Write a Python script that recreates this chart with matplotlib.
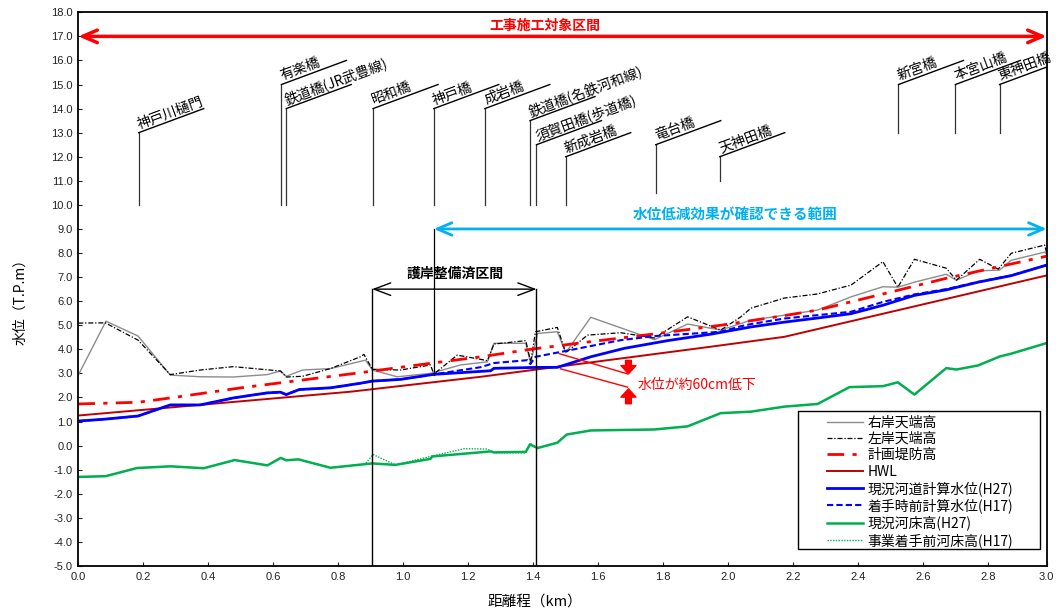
import numpy as np
import matplotlib
matplotlib.use('Agg')
import matplotlib.pyplot as plt
from matplotlib.patches import Rectangle
from matplotlib.ticker import FormatStrFormatter

plt.rcParams['font.family'] = ['Noto Sans CJK JP', 'DejaVu Sans']

# ---------------- data ----------------
rb_x = [0.0, 0.085, 0.184, 0.283, 0.375, 0.477, 0.581, 0.622, 0.640, 0.690, 0.776, 0.868, 0.884, 0.905,
        0.981, 1.084, 1.176, 1.259, 1.279, 1.377, 1.392, 1.413, 1.474, 1.500, 1.577, 1.773, 1.875, 1.977,
        2.070, 2.173, 2.275, 2.378, 2.476, 2.522, 2.573, 2.671, 2.702, 2.769, 2.835, 2.871, 2.974, 2.98]
rb_y = [2.93, 5.17, 4.55, 2.93, 2.86, 2.85, 2.95, 3.10, 2.88, 3.14, 3.20, 3.50, 3.55, 3.14,
        2.86, 3.00, 3.35, 3.48, 4.25, 4.25, 3.42, 4.66, 4.73, 3.86, 5.33, 4.40, 5.05, 4.80,
        5.21, 5.42, 5.63, 6.18, 6.60, 6.58, 6.79, 7.12, 6.87, 7.26, 7.29, 7.70, 8.04, 7.95]

lb_x = [0.0, 0.083, 0.184, 0.283, 0.375, 0.477, 0.581, 0.622, 0.640, 0.690, 0.776, 0.868, 0.879, 0.905,
        0.991, 1.084, 1.094, 1.166, 1.259, 1.279, 1.377, 1.392, 1.407, 1.474, 1.500, 1.567, 1.669, 1.773,
        1.875, 1.977, 2.039, 2.070, 2.173, 2.275, 2.378, 2.476, 2.522, 2.573, 2.671, 2.702, 2.774, 2.831,
        2.871, 2.974, 2.98]
lb_y = [5.09, 5.10, 4.38, 2.95, 3.14, 3.28, 3.15, 3.10, 2.85, 2.88, 3.20, 3.69, 3.79, 3.17,
        3.14, 3.35, 2.97, 3.76, 3.53, 4.22, 4.36, 3.49, 4.73, 4.91, 3.86, 4.59, 4.69, 4.47,
        5.35, 4.80, 5.35, 5.71, 6.13, 6.30, 6.67, 7.64, 6.58, 7.74, 7.37, 6.87, 7.74, 7.33,
        7.99, 8.33, 8.00]

pd_x = [0.0, 0.184, 0.283, 0.500, 0.868, 1.084, 1.239, 1.392, 1.547, 1.773, 1.977, 2.173, 2.275, 2.476, 2.671, 2.98]
pd_y = [1.73, 1.80, 1.98, 2.40, 3.03, 3.42, 3.69, 4.00, 4.27, 4.64, 5.00, 5.40, 5.63, 6.30, 6.95, 7.87]

hwl_x = [0.0, 0.838, 1.239, 1.947, 2.173, 2.98]
hwl_y = [1.25, 2.24, 2.86, 4.11, 4.52, 7.07]

h27_x = [0.0, 0.083, 0.184, 0.283, 0.375, 0.477, 0.581, 0.622, 0.640, 0.680, 0.776, 0.868, 0.905, 0.991,
         1.094, 1.269, 1.279, 1.413, 1.474, 1.577, 1.680, 1.813, 1.947, 2.070, 2.173, 2.275, 2.378, 2.476,
         2.573, 2.671, 2.769, 2.871, 2.98]
h27_y = [1.02, 1.10, 1.23, 1.69, 1.69, 1.98, 2.19, 2.22, 2.12, 2.33, 2.40, 2.59, 2.68, 2.75,
         2.96, 3.11, 3.21, 3.25, 3.25, 3.69, 4.04, 4.36, 4.63, 4.93, 5.13, 5.30, 5.48, 5.83,
         6.24, 6.47, 6.79, 7.06, 7.50]

h17_x = [0.0, 0.083, 0.184, 0.283, 0.375, 0.477, 0.581, 0.622, 0.640, 0.680, 0.776, 0.868, 0.905, 0.991,
         1.094, 1.239, 1.279, 1.382, 1.391, 1.407, 1.484, 1.669, 1.773, 1.977, 2.039, 2.070, 2.173, 2.275,
         2.378, 2.476, 2.573, 2.671, 2.769, 2.871, 2.98]
h17_y = [1.02, 1.10, 1.23, 1.69, 1.69, 1.98, 2.19, 2.22, 2.12, 2.33, 2.40, 2.59, 2.68, 2.75,
         2.96, 3.26, 3.43, 3.55, 3.39, 3.69, 3.89, 4.38, 4.55, 4.73, 4.96, 5.05, 5.28, 5.42,
         5.56, 5.97, 6.28, 6.50, 6.80, 7.07, 7.50]

bed27_x = [0.0, 0.084, 0.181, 0.284, 0.386, 0.481, 0.582, 0.623, 0.640, 0.677, 0.776, 0.904, 0.976, 1.084,
           1.089, 1.269, 1.279, 1.377, 1.390, 1.413, 1.474, 1.503, 1.577, 1.772, 1.875, 1.977, 2.070, 2.173,
           2.275, 2.373, 2.476, 2.522, 2.573, 2.671, 2.702, 2.769, 2.835, 2.871, 2.98]
bed27_y = [-1.30, -1.27, -0.93, -0.86, -0.94, -0.60, -0.82, -0.51, -0.61, -0.57, -0.92, -0.74, -0.80, -0.55,
           -0.45, -0.24, -0.28, -0.26, 0.05, -0.10, 0.12, 0.46, 0.63, 0.67, 0.80, 1.35, 1.41, 1.62,
           1.73, 2.43, 2.47, 2.63, 2.12, 3.22, 3.16, 3.33, 3.70, 3.82, 4.26]

bed17_x = [0.0, 0.084, 0.181, 0.284, 0.386, 0.481, 0.582, 0.623, 0.640, 0.677, 0.776, 0.883, 0.907, 0.976,
           1.084, 1.187, 1.259, 1.279, 1.377, 1.390, 1.413, 1.474, 1.503, 1.577, 1.772, 1.875, 1.977, 2.070,
           2.173, 2.275, 2.373, 2.476, 2.522, 2.573, 2.671, 2.702, 2.769, 2.835, 2.871, 2.98]
bed17_y = [-1.30, -1.27, -0.93, -0.86, -0.94, -0.60, -0.82, -0.51, -0.61, -0.57, -0.92, -0.76, -0.37, -0.80,
           -0.45, -0.13, -0.14, -0.30, -0.30, 0.10, -0.10, 0.12, 0.46, 0.63, 0.67, 0.80, 1.35, 1.41,
           1.62, 1.73, 2.43, 2.47, 2.63, 2.12, 3.22, 3.16, 3.33, 3.70, 3.82, 4.26]

legend_labels = ['右岸天端高', '左岸天端高', '計画堤防高', 'HWL', '現況河道計算水位(H27)',
                 '着手時前計算水位(H17)', '現況河床高(H27)', '事業着手前河床高(H17)']

bridge_names = ['神戸川樋門', '有楽橋', '鉄道橋(JR武豊線)', '昭和橋', '神戸橋', '成岩橋', '鉄道橋(名鉄河和線)',
                '須賀田橋(歩道橋)', '新成岩橋', '竜台橋', '天神田橋', '新宮橋', '本宮山橋', '東神田橋']
bridge_x = [0.186, 0.625, 0.640, 0.907, 1.094, 1.251, 1.390, 1.410, 1.500, 1.777, 1.974, 2.524, 2.699, 2.835]
bridge_bottom = [10, 10, 10, 10, 10, 10, 10, 10, 10, 10.5, 11, 13, 13, 13]
bridge_top = [13, 15, 14, 14, 14, 14, 13.5, 12.5, 12, 12.5, 12, 15, 15, 15]

x_ticks = [0.0, 0.2, 0.4, 0.6, 0.8, 1.0, 1.2, 1.4, 1.6, 1.8, 2.0, 2.2, 2.4, 2.6, 2.8, 2.98]
x_tick_labels = ['0.0', '0.2', '0.4', '0.6', '0.8', '1.0', '1.2', '1.4', '1.6', '1.8', '2.0', '2.2',
                 '2.4', '2.6', '2.8', '3.0']

# construction range etc.
work_range = [0.0, 2.98]
effect_range = [1.094, 2.98]
revet_range = [0.904, 1.410]
XMAX = 2.98

# ---------------- figure ----------------
fig = plt.figure(figsize=(10.61, 6.15), dpi=100)
ax = fig.add_axes([0.0738, 0.0797, 0.9127, 0.9003])
ax.set_xlim(0, XMAX)
ax.set_ylim(-5, 18)

l1, = ax.plot(rb_x, rb_y, color='#8c8c8c', lw=1.0)
l2, = ax.plot(lb_x, lb_y, color='black', lw=0.9, dashes=(4, 1.5, 1, 1.5))
l3, = ax.plot(pd_x, pd_y, color='#ff0000', lw=2.0, dashes=(6, 3, 1.5, 3))
l4, = ax.plot(hwl_x, hwl_y, color='#c00000', lw=1.4)
l5, = ax.plot(h27_x, h27_y, color='#0000ff', lw=2.0)
l6, = ax.plot(h17_x, h17_y, color='#0000ff', lw=1.5, dashes=(3, 1.5))
l8, = ax.plot(bed17_x, bed17_y, color='#00b050', lw=1.0, dashes=(1, 1))
l7, = ax.plot(bed27_x, bed27_y, color='#00b050', lw=1.8)

# bridges
SL_DX, SL_DY = 0.2, 1.0
for name, bx, b0, b1 in zip(bridge_names, bridge_x, bridge_bottom, bridge_top):
    ax.plot([bx, bx], [b0, b1], color='#333333', lw=0.9)
    ax.plot([bx, bx + SL_DX], [b1, b1 + SL_DY], color='black', lw=1.0)
    ax.text(bx + 0.006, b1 + 0.06, name, rotation=20.3, rotation_mode='anchor',
            ha='left', va='bottom', fontsize=10)

# work range arrow
ax.annotate('', xy=(work_range[0], 17), xytext=(work_range[1], 17),
            arrowprops=dict(arrowstyle='<->,head_length=0.7,head_width=0.3', color='red', lw=2.5,
                            shrinkA=0, shrinkB=0, mutation_scale=15))
ax.text(1.436, 17.45, '工事施工対象区間', color='red', fontsize=10, fontweight='bold',
        ha='center', va='center')

# effect range arrow
ax.annotate('', xy=(effect_range[0], 9.0), xytext=(effect_range[1], 9.0),
            arrowprops=dict(arrowstyle='<->,head_length=0.7,head_width=0.3', color='#00b0f0', lw=2.0,
                            shrinkA=0, shrinkB=0, mutation_scale=15))
ax.text(2.02, 9.57, '水位低減効果が確認できる範囲', color='#00b0f0', fontsize=10.5, fontweight='bold',
        ha='center', va='center')
ax.plot([effect_range[0], effect_range[0]], [9.0, 2.95], color='black', lw=0.9)

# revetment range
ax.annotate('', xy=(revet_range[0], 6.5), xytext=(revet_range[1], 6.5),
            arrowprops=dict(arrowstyle='<->,head_length=0.8,head_width=0.3', color='black', lw=1.0,
                            shrinkA=0, shrinkB=0, mutation_scale=15))
ax.text(1.16, 7.14, '護岸整備済区間', color='black', fontsize=10, fontweight='bold',
        ha='center', va='center')
for rx in revet_range:
    ax.plot([rx, rx], [-5, 6.5], color='black', lw=1.0)

# water level reduction annotation
ax.plot([1.48, 1.69], [3.82, 2.98], color='red', lw=1.0)
ax.plot([1.484, 1.69], [3.19, 2.43], color='red', lw=1.0)
ax.annotate('', xy=(1.693, 2.98), xytext=(1.693, 3.54),
            arrowprops=dict(arrowstyle='simple,head_length=0.5,head_width=0.9,tail_width=0.35',
                            color='red', shrinkA=0, shrinkB=0, mutation_scale=12))
ax.annotate('', xy=(1.693, 2.36), xytext=(1.693, 1.74),
            arrowprops=dict(arrowstyle='simple,head_length=0.5,head_width=0.9,tail_width=0.35',
                            color='red', shrinkA=0, shrinkB=0, mutation_scale=12))
ax.text(1.721, 2.5, '水位が約60cm低下', color='red', fontsize=10, ha='left', va='center')

# axes styling
ax.set_yticks(np.arange(-5, 18.5, 1.0))
ax.yaxis.set_major_formatter(FormatStrFormatter('%.1f'))
ax.set_xticks(x_ticks)
ax.set_xticklabels(x_tick_labels)
ax.tick_params(direction='in', length=3, labelsize=8, colors='#222222', pad=4)
for lab in ax.get_xticklabels() + ax.get_yticklabels():
    lab.set_family(['Liberation Sans', 'DejaVu Sans'])
for sp in ax.spines.values():
    sp.set_linewidth(1.3)

ax.set_xlabel('距離程（km）', fontsize=10.5)
ax.xaxis.set_label_coords(0.472, -0.052)
ax.set_ylabel('水位（T.P.m）', fontsize=10)
ax.yaxis.set_label_coords(-0.053, 0.483)

# legend
ax.add_patch(Rectangle((0.7435, 0.0307), 0.2495, 0.2498, transform=ax.transAxes,
                       facecolor='white', edgecolor='black', lw=1.0, zorder=4.5))
leg = ax.legend([l1, l2, l3, l4, l5, l6, l7, l8], legend_labels, loc='upper left',
                bbox_to_anchor=(0.7728, 0.272), frameon=False, fontsize=10, borderpad=0,
                handlelength=2.6, handletextpad=0.33, labelspacing=0.175, borderaxespad=0)
leg.set_zorder(5)

fig.savefig('out.png', dpi=100)
